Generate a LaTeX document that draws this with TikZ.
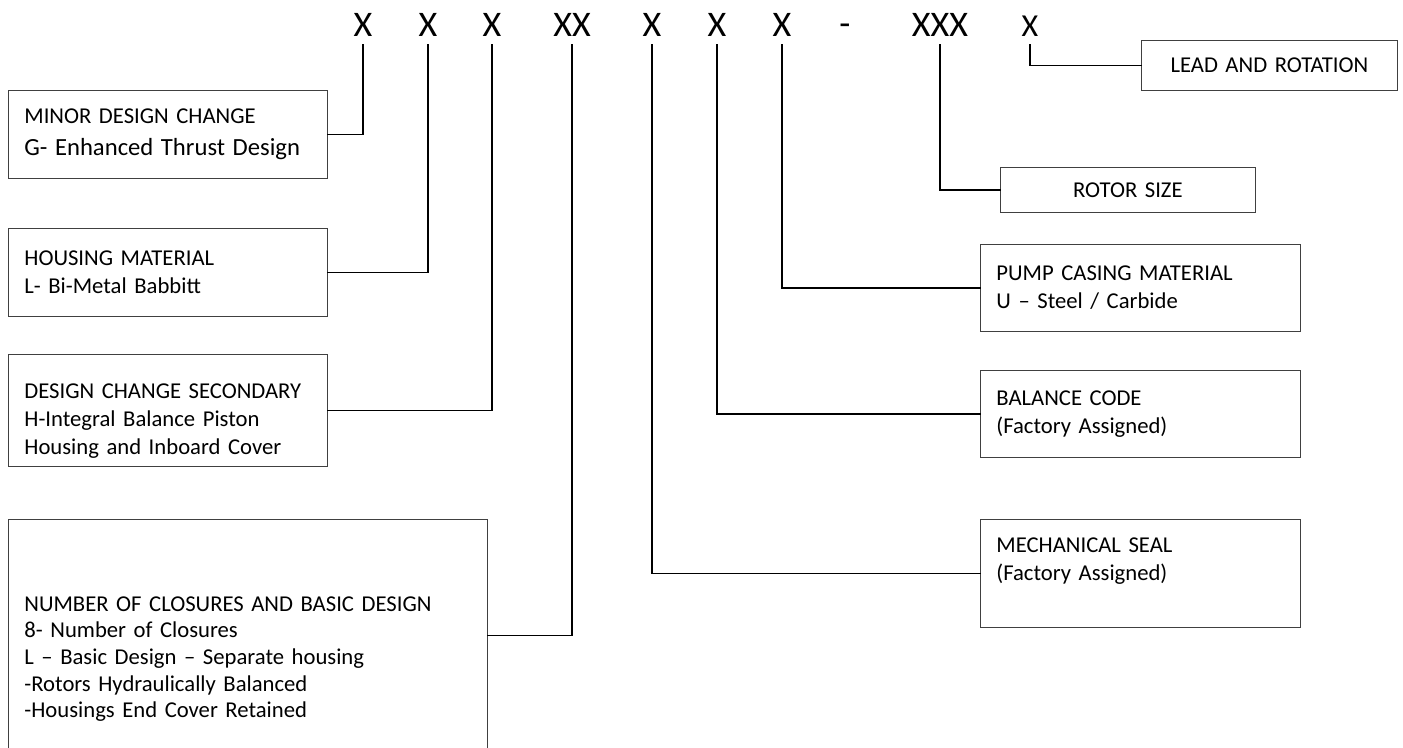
\documentclass[tikz,border=0pt]{standalone}
\usepackage{fontspec}
\setmainfont{Carlito}
\usetikzlibrary{positioning}

\begin{document}
\begin{tikzpicture}[x=0.75pt, y=-0.75pt,
	code/.style={inner sep=0pt, outer ysep=6pt, anchor=base, font=\fontsize{27}{30}\selectfont},
	infobox/.style={draw=black!75, line width=0.6pt, anchor=north west, align=left,
		inner xsep=12pt, inner ysep=0pt, font=\fontsize{17}{21}\selectfont},
	leftbox/.style={infobox, text width=215.25pt},
	rightbox/.style={infobox, text width=216pt},
	link/.style={line width=1.3pt, line cap=rect}]
	% Bildbereich
	\useasboundingbox (0,0) rectangle (1403,748);
	\clip (0,0) rectangle (1403,748);
	% Typenschluessel oben
	\node[code] (c1) at (363,37) {X};
	\node[code] (c2) at (428,37) {X};
	\node[code] (c3) at (492,37) {X};
	\node[code] (c4) at (572,37) {XX};
	\node[code] (c5) at (652,37) {X};
	\node[code] (c6) at (717,37) {X};
	\node[code] (c7) at (782,37) {X};
	\node[code] (dash) at (845,36) {-};
	\node[code] (c8) at (940,37) {XXX};
	\node[code, font=\fontsize{24}{28}\selectfont] (c9) at (1030,37) {X};
	% Kaesten links
	\node[leftbox, minimum height=66pt] (minor) at (8,90)
		{MINOR DESIGN CHANGE\\[3pt]{\fontsize{18.5}{24}\selectfont G- Enhanced Thrust Design}};
	\node[leftbox, minimum height=66pt] (housing) at (8,228)
		{HOUSING MATERIAL\\L- Bi-Metal Babbitt};
	\node[leftbox, minimum height=84pt] (secondary) at (8,354)
		{\mbox{}\\[6pt]DESIGN CHANGE SECONDARY\\H-Integral Balance Piston\\Housing and Inboard Cover};
	\node[infobox, text width=335.25pt, minimum height=174pt,
		font=\fontsize{17}{20}\selectfont] (closures) at (8,519)
		{\mbox{}\\[26.5pt]NUMBER OF CLOSURES AND BASIC DESIGN\\8- Number of Closures\\
		L -- Basic Design -- Separate housing\\-Rotors Hydraulically Balanced\\
		-Housings End Cover Retained};
	% Kaesten rechts
	\node[infobox, align=center, text width=168pt, minimum height=37.5pt] (lead) at (1141,40)
		{LEAD AND ROTATION};
	\node[infobox, align=center, text width=167.25pt, minimum height=33.75pt] (rotor) at (1000,167)
		{ROTOR SIZE};
	\node[rightbox, minimum height=65.25pt] (casing) at (980,244)
		{PUMP CASING MATERIAL\\U -- Steel / Carbide};
	\node[rightbox, minimum height=65.25pt] (balance) at (980,370)
		{BALANCE CODE\\(Factory Assigned)};
	\node[rightbox, minimum height=81pt] (seal) at (980,519)
		{MECHANICAL SEAL\\(Factory Assigned)\\\mbox{}};
	% Verbindungen
	\draw[link] (c1.south) |- (minor.east);
	\draw[link] (c2.south) |- (housing.east);
	\draw[link] (c3.south) |- (secondary.east);
	\draw[link] (c4.south) |- (closures.east);
	\draw[link] (c5.south) |- (seal.west);
	\draw[link] (c6.south) |- (balance.west);
	\draw[link] (c7.south) |- (casing.west);
	\draw[link] (c8.south) |- (rotor.west);
	\draw[link] (c9.south) |- (lead.west);
\end{tikzpicture}
\end{document}
